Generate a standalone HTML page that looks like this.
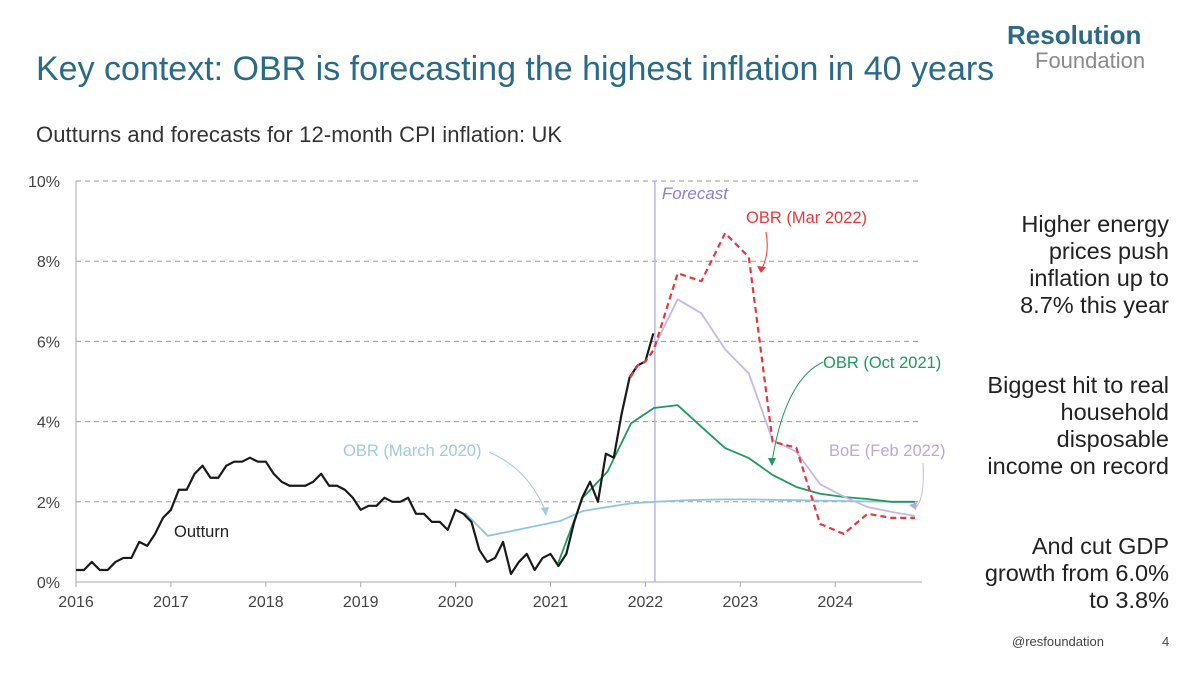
<!DOCTYPE html>
<html><head><meta charset="utf-8"><style>
body{margin:0;width:1200px;height:675px;background:#fff;font-family:"Liberation Sans",sans-serif;overflow:hidden;position:relative}
.t{position:absolute;white-space:nowrap}
</style></head><body>
<div class="t" style="left:36px;top:50px;font-size:34px;color:#2a6a86">Key context: OBR is forecasting the highest inflation in 40 years</div>
<div class="t" style="left:1007px;top:20px;font-size:26px;font-weight:bold;color:#2a6a86">Resolution</div>
<div class="t" style="left:1035px;top:48px;font-size:22px;color:#8a8a8a">Foundation</div>
<div class="t" style="left:36px;top:122px;font-size:22px;letter-spacing:0.1px;color:#333">Outturns and forecasts for 12-month CPI inflation: UK</div>
<div class="t" style="right:31px;top:211px;font-size:23.5px;color:#222;text-align:right;line-height:27px">Higher energy<br>prices push<br>inflation up to<br>8.7% this year</div>
<div class="t" style="right:31px;top:372px;font-size:23.5px;color:#222;text-align:right;line-height:27px">Biggest hit to real<br>household<br>disposable<br>income on record</div>
<div class="t" style="right:31px;top:533px;font-size:23.5px;color:#222;text-align:right;line-height:27px">And cut GDP<br>growth from 6.0%<br>to 3.8%</div>
<div class="t" style="left:1012px;top:634px;font-size:13px;color:#444">@resfoundation</div>
<div class="t" style="left:1162px;top:634px;font-size:13px;color:#444">4</div>
<svg id="c" width="1200" height="675" style="position:absolute;left:0;top:0" font-family="Liberation Sans, sans-serif"></svg>
<script>
const outturn=[0.3,0.3,0.5,0.3,0.3,0.5,0.6,0.6,1.0,0.9,1.2,1.6,1.8,2.3,2.3,2.7,2.9,2.6,2.6,2.9,3.0,3.0,3.1,3.0,3.0,2.7,2.5,2.4,2.4,2.4,2.5,2.7,2.4,2.4,2.3,2.1,1.8,1.9,1.9,2.1,2.0,2.0,2.1,1.7,1.7,1.5,1.5,1.3,1.8,1.7,1.5,0.8,0.5,0.6,1.0,0.2,0.5,0.7,0.3,0.6,0.7,0.4,0.7,1.5,2.1,2.5,2.0,3.2,3.1,4.2,5.1,5.4,5.5,6.2];
const obrMar22T=[2021.84,2021.92,2022.0,2022.09,2022.34,2022.59,2022.84,2023.09,2023.34,2023.59,2023.84,2024.09,2024.34,2024.59,2024.84];
const obrMar22=[5.1,5.4,5.5,5.8,7.7,7.5,8.7,8.1,3.5,3.35,1.45,1.2,1.7,1.6,1.6];
const boeT=[2022.09,2022.34,2022.59,2022.84,2023.09,2023.34,2023.59,2023.84,2024.09,2024.34,2024.59,2024.84];
const boe=[5.85,7.05,6.7,5.8,5.2,3.54,3.25,2.44,2.13,1.87,1.75,1.65];
const obrOct21T=[2021.08,2021.34,2021.6,2021.85,2022.09,2022.34,2022.59,2022.84,2023.09,2023.34,2023.59,2023.84,2024.09,2024.34,2024.59,2024.84];
const obrOct21=[0.47,2.1,2.75,3.96,4.34,4.41,3.87,3.34,3.09,2.67,2.37,2.2,2.12,2.07,2.0,2.0];
const obrMar20T=[2020.1,2020.34,2021.1,2021.34,2021.6,2021.85,2022.09,2022.34,2022.59,2022.84,2023.09,2023.34,2023.59,2023.84,2024.09,2024.34,2024.59,2024.84];
const obrMar20=[1.72,1.15,1.52,1.77,1.87,1.96,2.0,2.03,2.05,2.06,2.06,2.05,2.04,2.03,2.02,2.01,2.0,2.0];
const yTicks=[0,2,4,6,8,10];
const xTicks=[2016,2017,2018,2019,2020,2021,2022,2023,2024];
const forecastStart=2022.1;
const X=t=>76+(t-2016)*94.9, Y=v=>582-v*40.1;
const svg=document.getElementById('c'),NS='http://www.w3.org/2000/svg';
function mk(tag,a,txt){const e=document.createElementNS(NS,tag);for(const k in a)e.setAttribute(k,a[k]);if(txt!=null)e.textContent=txt;svg.appendChild(e);return e;}
yTicks.forEach(v=>{
 if(v>0){const g=mk('line',{x1:76,x2:922,y1:Y(v),y2:Y(v),stroke:'#999','stroke-dasharray':'5,4','stroke-width':1});
 
 }
 const l=mk('text',{x:60,y:Y(v)+6,'text-anchor':'end','font-size':16,fill:'#444'},v+'%');
 
 
});
const ax=mk('line',{x1:76,x2:922,y1:582,y2:582,stroke:'#aaa'});


const ay=mk('line',{x1:76,x2:76,y1:181,y2:582,stroke:'#aaa'});


xTicks.forEach(t=>{
 mk('line',{x1:X(t),x2:X(t),y1:582,y2:587,stroke:'#aaa'});
 const l=mk('text',{x:X(t),y:607,'text-anchor':'middle','font-size':16,fill:'#444'},t);
 
 
});
const fl=mk('line',{x1:X(forecastStart),x2:X(forecastStart),y1:181,y2:582,stroke:'#b9b4e6','stroke-width':1.5});


const ft=mk('text',{x:X(forecastStart)+7,y:199,'font-size':17,'font-style':'italic',fill:'#8a7fd0'},'Forecast');


function line(ts,vs,col,w,name,dash){
 const p=mk('polyline',{points:ts.map((t,i)=>X(t)+','+Y(vs[i])).join(' '),fill:'none',stroke:col,'stroke-width':w,'stroke-linejoin':'round'});
 if(dash)p.setAttribute('stroke-dasharray',dash);
 
 
}
line(obrMar20T,obrMar20,'#8fc6dd',1.8,'line-obr-mar-2020');
line(obrOct21T,obrOct21,'#1f9a5e',1.8,'line-obr-oct-2021');
line(boeT,boe,'#c5b8e6',1.8,'line-boe-feb-2022');
line(outturn.map((v,i)=>2016+i/12),outturn,'#1a1a1a',2.2,'line-outturn');
line(obrMar22T,obrMar22,'#e8363d',2.2,'line-obr-mar-2022','6,4');
function lab(x,y,txt,col,name){const t=mk('text',{x:x,y:y,'font-size':16.5,fill:col},txt);
 
 }
lab(174,537,'Outturn','#222','label-outturn');
lab(343,456,'OBR (March 2020)','#9fcbe0','label-obr-mar-2020');
lab(746,223,'OBR (Mar 2022)','#e8363d','label-obr-mar-2022');
lab(823,368,'OBR (Oct 2021)','#1f9a5e','label-obr-oct-2021');
lab(829,456,'BoE (Feb 2022)','#b9a8e0','label-boe-feb-2022');
function arrow(d,col){mk('path',{d:d,fill:'none',stroke:col,'stroke-width':1});}
arrow('M489,452 Q530,470 546,513','#9fcbe0');mk('path',{d:'M541,508 L546,516 L549,507 Z',fill:'#9fcbe0'});
arrow('M766,232 Q770,255 761,270','#e8363d');mk('path',{d:'M757,266 L761,273 L766,267 Z',fill:'#e8363d'});
arrow('M823,362 Q785,380 772,462','#1f9a5e');mk('path',{d:'M768,458 L772,466 L776,458 Z',fill:'#1f9a5e'});
arrow('M923,463 Q925,500 915,508','#c5b8e6');mk('path',{d:'M909,505 L916,510 L917,502 Z',fill:'#b9a8e0'});
</script>
</body></html>
